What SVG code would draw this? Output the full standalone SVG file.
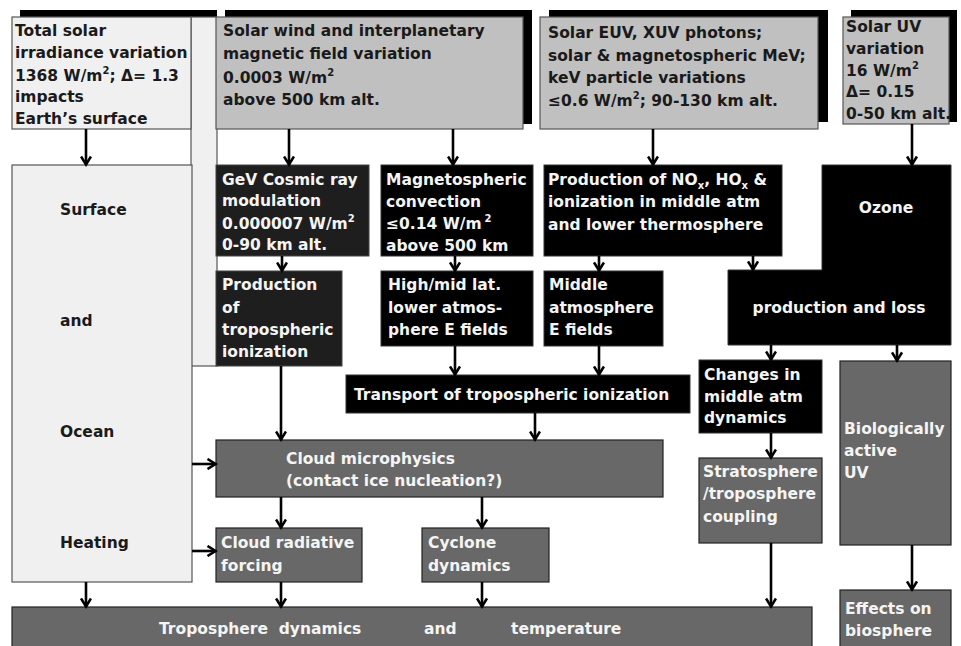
<svg xmlns="http://www.w3.org/2000/svg" width="961" height="646" viewBox="0 0 961 646">
<style>
text{font-family:"DejaVu Sans","Liberation Sans",sans-serif;font-weight:bold;font-size:15.5px}
.dk{fill:#1a1a1a}
.wt{fill:#f4f4f4}
.light{fill:#f0f0f0;stroke:#555;stroke-width:1.2}
.gray{fill:#c0c0c0;stroke:#555;stroke-width:1.2}
.black{fill:#000;stroke:#333;stroke-width:1}
.soft{fill:#1e1e1e;stroke:#444;stroke-width:1}
.mid{fill:#686868;stroke:#222;stroke-width:1.2}
.shadow{fill:#000}
.sub{font-size:10px}
#connectors line{stroke:#000;stroke-width:2.6;marker-end:url(#ah)}
</style>
<defs>
<marker id="ah" viewBox="0 0 12 12" refX="10.5" refY="6" markerWidth="12" markerHeight="12" markerUnits="userSpaceOnUse" orient="auto">
<path d="M2,1 L10,6 L2,11" fill="none" stroke="#000" stroke-width="2.6"/>
</marker>
</defs>
<rect width="961" height="646" fill="#fff"/>

<g id="strip">
<rect class="shadow" x="20" y="10" width="197" height="10"/>
<rect class="light" x="191" y="17" width="26" height="349"/>
</g>

<g id="total-solar">
<rect class="light" x="12" y="17" width="179" height="112"/>
<text class="dk" x="15" y="36">Total solar</text>
<text class="dk" x="15" y="58">irradiance variation</text>
<text class="dk" x="15" y="81">1368 W/m<tspan class="sub" dy="-7">2</tspan><tspan dy="7">; Δ= 1.3</tspan></text>
<text class="dk" x="15" y="102">impacts</text>
<text class="dk" x="15" y="124">Earth’s surface</text>
</g>

<g id="solar-wind">
<rect class="shadow" x="225" y="10" width="307" height="114"/>
<rect class="gray" x="216" y="17" width="307" height="112"/>
<text class="dk" x="223" y="36">Solar wind and interplanetary</text>
<text class="dk" x="223" y="59">magnetic field variation</text>
<text class="dk" x="223" y="83">0.0003 W/m<tspan class="sub" dy="-7">2</tspan></text>
<text class="dk" x="223" y="105">above 500 km alt.</text>
</g>

<g id="solar-euv">
<rect class="shadow" x="549" y="10" width="279" height="112"/>
<rect class="gray" x="540" y="17" width="278" height="112"/>
<text class="dk" x="548" y="38">Solar EUV, XUV photons;</text>
<text class="dk" x="548" y="61">solar &amp; magnetospheric MeV;</text>
<text class="dk" x="548" y="83">keV particle variations</text>
<text class="dk" x="548" y="106">≤0.6 W/m<tspan class="sub" dy="-7">2</tspan><tspan dy="7">; 90-130 km alt.</tspan></text>
</g>

<g id="solar-uv">
<rect class="shadow" x="851" y="10" width="106" height="112"/>
<rect class="gray" x="843" y="17" width="106" height="107"/>
<text class="dk" x="846" y="32">Solar UV</text>
<text class="dk" x="846" y="54">variation</text>
<text class="dk" x="846" y="76">16 W/m<tspan class="sub" dy="-7">2</tspan></text>
<text class="dk" x="846" y="97">Δ= 0.15</text>
<text class="dk" x="846" y="119">0-50 km alt.</text>
</g>

<g id="surface">
<rect class="light" x="12" y="165" width="180" height="417"/>
<text class="dk" x="60" y="215">Surface</text>
<text class="dk" x="60" y="326">and</text>
<text class="dk" x="60" y="437">Ocean</text>
<text class="dk" x="60" y="548">Heating</text>
</g>

<g id="gev">
<rect class="soft" x="216" y="165" width="153" height="91"/>
<text class="wt" x="222" y="185">GeV Cosmic ray</text>
<text class="wt" x="222" y="206">modulation</text>
<text class="wt" x="222" y="229">0.000007 W/m<tspan class="sub" dy="-7">2</tspan></text>
<text class="wt" x="222" y="250">0-90 km alt.</text>
</g>

<g id="magneto">
<rect class="black" x="381" y="165" width="152" height="91"/>
<text class="wt" x="386" y="185">Magnetospheric</text>
<text class="wt" x="386" y="207">convection</text>
<text class="wt" x="386" y="229">≤0.14 W/m<tspan class="sub" dx="3" dy="-7">2</tspan></text>
<text class="wt" x="386" y="251">above 500 km</text>
</g>

<g id="nox">
<rect class="black" x="544" y="165" width="238" height="91"/>
<text class="wt" x="548" y="185">Production of NO<tspan class="sub" dy="4">x</tspan><tspan dy="-4">, HO</tspan><tspan class="sub" dy="4">x</tspan><tspan dy="-4"> &amp;</tspan></text>
<text class="wt" x="548" y="207">ionization in middle atm</text>
<text class="wt" x="548" y="230">and lower thermosphere</text>
</g>

<g id="ozone">
<polygon class="black" points="822,165 951,165 951,345 728,345 728,270 822,270"/>
<text class="wt" x="886" y="213" text-anchor="middle">Ozone</text>
<text class="wt" x="839" y="313" text-anchor="middle">production and loss</text>
</g>

<g id="prod-trop">
<rect class="soft" x="216" y="271" width="126" height="95"/>
<text class="wt" x="222" y="290">Production</text>
<text class="wt" x="222" y="313">of</text>
<text class="wt" x="222" y="335">tropospheric</text>
<text class="wt" x="222" y="357">ionization</text>
</g>

<g id="high-mid">
<rect class="black" x="381" y="271" width="152" height="75"/>
<text class="wt" x="388" y="290">High/mid lat.</text>
<text class="wt" x="388" y="313">lower atmos-</text>
<text class="wt" x="388" y="335">phere E fields</text>
</g>

<g id="middle-e">
<rect class="black" x="544" y="271" width="119" height="75"/>
<text class="wt" x="549" y="290">Middle</text>
<text class="wt" x="549" y="313">atmosphere</text>
<text class="wt" x="549" y="335">E fields</text>
</g>

<g id="transport">
<rect class="black" x="346" y="375" width="344" height="38"/>
<text class="wt" x="354" y="400">Transport of tropospheric ionization</text>
</g>

<g id="changes">
<rect class="black" x="699" y="360" width="123" height="73"/>
<text class="wt" x="704" y="380">Changes in</text>
<text class="wt" x="704" y="402">middle atm</text>
<text class="wt" x="704" y="423">dynamics</text>
</g>

<g id="bio-uv">
<rect class="mid" x="840" y="361" width="111" height="184"/>
<text class="wt" x="844" y="434">Biologically</text>
<text class="wt" x="844" y="456">active</text>
<text class="wt" x="844" y="478">UV</text>
</g>

<g id="cloud-micro">
<rect class="mid" x="216" y="440" width="447" height="57"/>
<text class="wt" x="286" y="464">Cloud microphysics</text>
<text class="wt" x="286" y="486">(contact ice nucleation?)</text>
</g>

<g id="strat">
<rect class="mid" x="699" y="458" width="123" height="85"/>
<text class="wt" x="703" y="477">Stratosphere</text>
<text class="wt" x="703" y="499">/troposphere</text>
<text class="wt" x="703" y="522">coupling</text>
</g>

<g id="cloud-rad">
<rect class="mid" x="216" y="528" width="146" height="54"/>
<text class="wt" x="221" y="548">Cloud radiative</text>
<text class="wt" x="221" y="571">forcing</text>
</g>

<g id="cyclone">
<rect class="mid" x="422" y="528" width="127" height="54"/>
<text class="wt" x="428" y="548">Cyclone</text>
<text class="wt" x="428" y="571">dynamics</text>
</g>

<g id="tropo">
<rect class="mid" x="12" y="607" width="800" height="50"/>
<text class="wt" x="159" y="634" xml:space="preserve">Troposphere  dynamics</text>
<text class="wt" x="424" y="634">and</text>
<text class="wt" x="511" y="634">temperature</text>
</g>

<g id="effects">
<rect class="mid" x="840" y="590" width="111" height="67"/>
<text class="wt" x="845" y="614">Effects on</text>
<text class="wt" x="845" y="636">biosphere</text>
</g>

<g id="connectors">
<line x1="86" y1="129" x2="86" y2="165"/>
<line x1="289" y1="129" x2="289" y2="165"/>
<line x1="453" y1="129" x2="453" y2="165"/>
<line x1="653" y1="129" x2="653" y2="165"/>
<line x1="912" y1="124" x2="912" y2="165"/>
<line x1="282" y1="256" x2="282" y2="271"/>
<line x1="455" y1="256" x2="455" y2="271"/>
<line x1="599" y1="256" x2="599" y2="271"/>
<line x1="753" y1="256" x2="753" y2="270"/>
<line x1="455" y1="346" x2="455" y2="375"/>
<line x1="599" y1="346" x2="599" y2="375"/>
<line x1="771" y1="345" x2="771" y2="360"/>
<line x1="897" y1="345" x2="897" y2="361"/>
<line x1="281" y1="366" x2="281" y2="440"/>
<line x1="535" y1="413" x2="535" y2="440"/>
<line x1="281" y1="497" x2="281" y2="528"/>
<line x1="482" y1="497" x2="482" y2="528"/>
<line x1="771" y1="433" x2="771" y2="458"/>
<line x1="912" y1="545" x2="912" y2="590"/>
<line x1="86" y1="582" x2="86" y2="607"/>
<line x1="281" y1="582" x2="281" y2="607"/>
<line x1="482" y1="582" x2="482" y2="607"/>
<line x1="771" y1="543" x2="771" y2="607"/>
<line x1="192" y1="464" x2="216" y2="464"/>
<line x1="192" y1="551" x2="216" y2="551"/>
</g>
</svg>
